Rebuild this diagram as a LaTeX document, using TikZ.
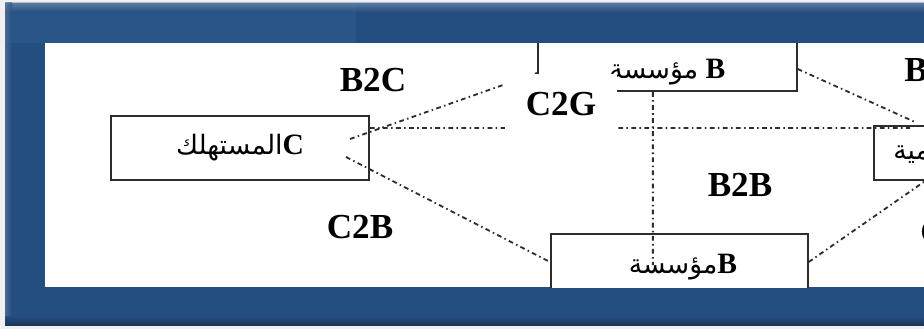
\documentclass[tikz,border=0pt]{standalone}
\usepackage{fontspec}
\setmainfont{Liberation Serif}
\newfontfamily\arabicfont[Script=Arabic]{DejaVu Sans}
\TeXXeTstate=1
\usetikzlibrary{positioning}
\definecolor{frameblue}{RGB}{37,78,128}
\definecolor{framelight}{RGB}{42,85,136}
\definecolor{linegray}{RGB}{45,45,45}
\newcommand{\artext}[1]{{\arabicfont\mdseries\fontsize{19}{22}\selectfont\beginR #1\endR}}

\begin{document}
\begin{tikzpicture}
[box/.style={draw=linegray,line width=1.2pt,fill=white,inner sep=0pt},
boxtext/.style={font=\fontsize{21}{24}\selectfont\bfseries,inner sep=0pt},
flow/.style={font=\fontsize{25}{30}\selectfont\bfseries,inner sep=0pt},
link/.style={draw=linegray,line width=1.3pt,
            dash pattern=on 3.4pt off 2.4pt on 1.1pt off 2.4pt}]

\useasboundingbox (0,0) rectangle (23.1,-8.225);

% frame
\fill [black!6] (0,0) rectangle (23.1,-8.225);
\fill [frameblue] (0.125,-0.075) rectangle (23.1,-8.125);
\fill [framelight] (0.125,-0.075) rectangle (8.9,-1.075);
\shade [top color=frameblue!60!white,bottom color=frameblue,opacity=0.6]
      (0.125,-0.075) rectangle (23.1,-0.3);
\shade [left color=frameblue!75!white,right color=frameblue,opacity=0.6]
      (0.125,-0.075) rectangle (0.3,-8.125);
\shade [top color=frameblue,bottom color=frameblue!70!black]
      (0.125,-7.9) rectangle (23.1,-8.125);
\fill [white] (1.125,-1.075) rectangle (23.1,-7.175);

\begin{scope}
\clip (1.125,-1.075) rectangle (23.1,-7.175);

\node (cons) [box,boxtext,minimum width=6.45cm,minimum height=1.6cm]
      at (6.0,-3.7) {\artext{المستهلك}C};
\node (firm) [box,minimum width=6.475cm,minimum height=1.8cm,
      anchor=south west] at (13.425,-2.3) {};
\node [boxtext] at ([yshift=0.5cm]firm.south) {\artext{مؤسسة} B};
\node (firm2) [box,minimum width=6.425cm,minimum height=2.5cm,
      anchor=north west] at (13.75,-5.825) {};
\node [boxtext] at ([xshift=0.09cm,yshift=-0.85cm]firm2.north)
      {\artext{مؤسسة}B};
\node (gov) [box,minimum width=3.5cm,minimum height=1.35cm,
      anchor=north west] at (21.825,-3.125) {};
\node [boxtext,anchor=west] at ([xshift=0.5cm]gov.west)
      {\artext{الإدارة الحكومية}G};

% links
\coordinate (c1) at (8.75,-3.475);
\coordinate (c2) at (8.65,-3.925);
\draw [link] (c1) -- ([yshift=0.475cm]firm.south west);
\draw [link] ([yshift=0.5cm]cons.east)
      -- ([xshift=0.925cm,yshift=-0.075cm]gov.north west);
\draw [link] (c2) -- ([yshift=-0.725cm]firm2.north west);
\draw [link] ([yshift=0.575cm]firm.south east)
      -- ([xshift=1.05cm,yshift=0.075cm]gov.north west);
\draw [link] ([yshift=-0.725cm]firm2.north east)
      -- ([xshift=1.315cm]gov.south west);
\draw [link] ([xshift=-0.3625cm]firm.south)
      -- ([xshift=-0.6625cm,yshift=-0.8cm]firm2.north);

\node (b2c) [flow] at (9.325,-2.0) {B2C};
\node (c2g) [flow,fill=white,minimum width=2.8cm,minimum height=1.525cm]
      at (14.025,-2.6125) {C2G};
\node (b2b) [flow] at (18.5,-4.625) {B2B};
\node (c2b) [flow] at (9.0,-5.675) {C2B};
\node (b2g) [flow,anchor=west] at (22.6,-1.75) {B2G};
\node (g2b) [flow,anchor=west] at (23.0,-5.8) {G2B};
\end{scope}
\end{tikzpicture}
\end{document}
